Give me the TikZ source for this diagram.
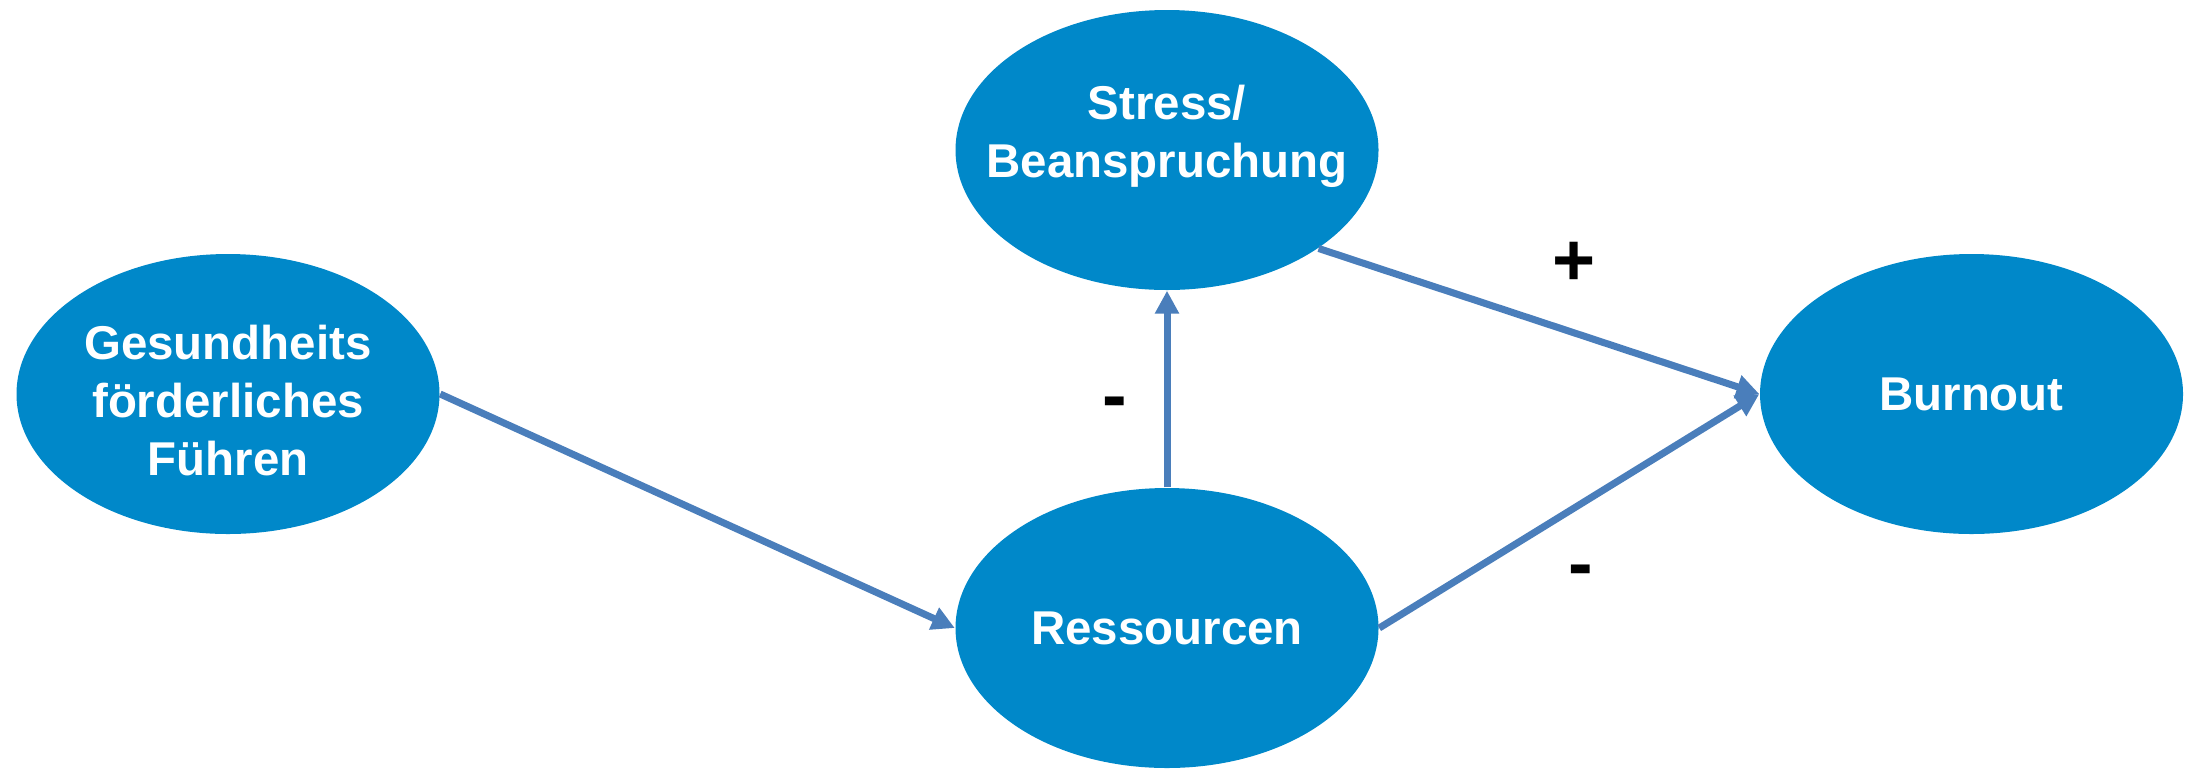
\documentclass[tikz,border=0pt]{standalone}
\usepackage{fontspec}
\setmainfont{Liberation Sans}
\usetikzlibrary{shapes.geometric,arrows.meta,positioning}
\definecolor{blobblue}{HTML}{0088C9}
\definecolor{arrowblue}{HTML}{4A7EBB}

\begin{document}
\begin{tikzpicture}[>={Triangle[length=6.5pt,width=6.5pt]},
    blob/.style={ellipse, fill=blobblue, minimum width=4.23cm,
      minimum height=2.8cm, inner sep=0pt},
    blobtext/.style={text=white, align=center,
      font=\fontsize{13.5}{16.5}\selectfont\bfseries},
    sign/.style={anchor=center, inner sep=0pt, text=black,
      font=\fontsize{21}{24}\selectfont\bfseries},
    link/.style={color=arrowblue, line width=2pt}]
    \useasboundingbox (0,0) rectangle (21.86,-7.70);
    \node [blob, label={[blobtext, yshift=-0.07cm]center:Gesundheits\\förderliches\\Führen}]
          (fuehren) at (2.28,-3.94) {};
    \node [blob, label={[blobtext, yshift=0.14cm]center:Stress/\\Beanspruchung}]
          (stress) at (11.67,-1.50) {};
    \node [blob, label={[blobtext]center:Ressourcen}]
          [below of=stress, node distance=4.78cm] (ress) {};
    \node [blob, label={[blobtext]center:Burnout}]
          [right of=fuehren, node distance=17.435cm] (burnout) {};
    \path[->, link] (fuehren.east) edge (ress.west)
          (ress.north) edge node [sign, pos=0.44, xshift=-0.52cm, yshift=-0.08cm] (minusA) {-} (stress.south)
          (stress.-33) edge node [sign, pos=0.58, yshift=0.69cm] (plus) {+} (burnout.west)
          (ress.east) edge node [sign, pos=0.53, yshift=-0.73cm] (minusB) {-} (burnout.west);
\end{tikzpicture}
\end{document}
